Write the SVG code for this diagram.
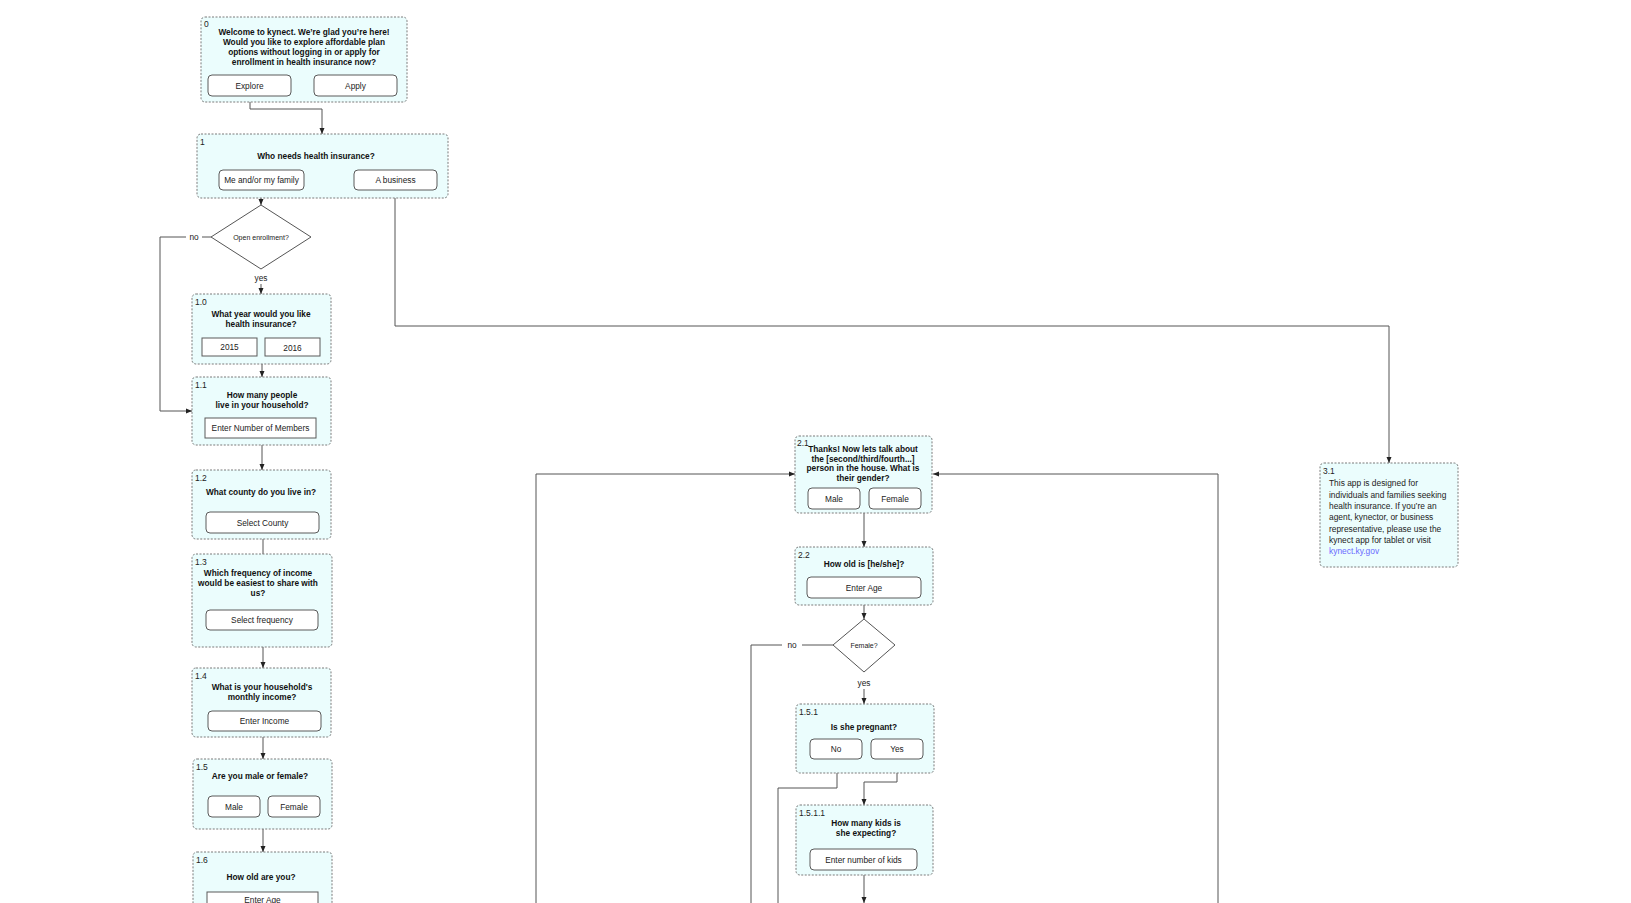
<svg xmlns="http://www.w3.org/2000/svg" width="1631" height="903" viewBox="0 0 1631 903">
<style>
.nd{fill:#ebfdfd;stroke:#7a7a7a;stroke-width:1;stroke-dasharray:2 1.5}
.bt{fill:#fff;stroke:#5a5a5a;stroke-width:1}
.t{font-family:"Liberation Sans",Arial,sans-serif;font-size:8.3px;font-weight:bold;fill:#111;text-anchor:middle}
.b{font-family:"Liberation Sans",Arial,sans-serif;font-size:8.3px;fill:#222;text-anchor:middle}
.n{font-family:"Liberation Sans",Arial,sans-serif;font-size:8.5px;fill:#222}
.d{font-family:"Liberation Sans",Arial,sans-serif;font-size:7px;fill:#222;text-anchor:middle}
.p{font-family:"Liberation Sans",Arial,sans-serif;font-size:8.4px;fill:#222}
.ln{fill:none;stroke:#555;stroke-width:1}
.dm{fill:#fff;stroke:#555;stroke-width:1}
</style>
<defs>
<marker id="ar" viewBox="0 0 6 6" refX="6" refY="3" markerWidth="6" markerHeight="6" markerUnits="userSpaceOnUse" orient="auto">
<path d="M0,0.5 L6,3 L0,5.5 Z" fill="#222"/>
</marker>
</defs>
<rect width="1631" height="903" fill="#fff"/>

<g id="connectors">
<path class="ln" d="M250,96 V109 H322 V134" marker-end="url(#ar)"/>
<path class="ln" d="M261,190 V205" marker-end="url(#ar)"/>
<path class="ln" d="M395,190 V326 H1389 V463" marker-end="url(#ar)"/>
<path class="ln" d="M211,237 H202"/>
<path class="ln" d="M186,237 H160 V411 H192" marker-end="url(#ar)"/>
<path class="ln" d="M261,284 V294" marker-end="url(#ar)"/>
<path class="ln" d="M262,364 V377" marker-end="url(#ar)"/>
<path class="ln" d="M262,445 V470" marker-end="url(#ar)"/>
<path class="ln" d="M263,533 V554"/>
<path class="ln" d="M263,647 V668" marker-end="url(#ar)"/>
<path class="ln" d="M263,737 V759" marker-end="url(#ar)"/>
<path class="ln" d="M263,829 V852" marker-end="url(#ar)"/>
<path class="ln" d="M536,903 V474 H795" marker-end="url(#ar)"/>
<path class="ln" d="M1218,903 V474 H933" marker-end="url(#ar)"/>
<path class="ln" d="M864,513 V547" marker-end="url(#ar)"/>
<path class="ln" d="M864,605 V619" marker-end="url(#ar)"/>
<path class="ln" d="M833,645 H802"/>
<path class="ln" d="M782,645 H751 V903"/>
<path class="ln" d="M864,689 V704" marker-end="url(#ar)"/>
<path class="ln" d="M837,759 V788 H778 V903"/>
<path class="ln" d="M897,759 V782 H864 V805" marker-end="url(#ar)"/>
<path class="ln" d="M864,870 V903" marker-end="url(#ar)"/>
</g>

<g id="node-0">
<rect class="nd" x="201" y="17" width="206" height="85" rx="4"/>
<text class="n" x="204" y="27">0</text>
<text class="t" x="304" y="34.5">Welcome to kynect. We’re glad you’re here!</text>
<text class="t" x="304" y="44.5">Would you like to explore affordable plan</text>
<text class="t" x="304" y="54.5">options without logging in or apply for</text>
<text class="t" x="304" y="64.5">enrollment in health insurance now?</text>
<rect class="bt" x="208" y="75" width="83" height="21" rx="4"/>
<text class="b" x="249.5" y="88.5">Explore</text>
<rect class="bt" x="314" y="75" width="83" height="21" rx="4"/>
<text class="b" x="355.5" y="88.5">Apply</text>
</g>

<g id="node-1">
<rect class="nd" x="197" y="134" width="251" height="64" rx="4"/>
<text class="n" x="200" y="145">1</text>
<text class="t" x="316" y="159">Who needs health insurance?</text>
<rect class="bt" x="219" y="170" width="85" height="20" rx="4"/>
<text class="b" x="261.5" y="183">Me and/or my family</text>
<rect class="bt" x="354" y="170" width="83" height="20" rx="4"/>
<text class="b" x="395.5" y="183">A business</text>
</g>

<g id="decision-open-enrollment">
<path class="dm" d="M261,205 L311,237 L261,269 L211,237 Z"/>
<text class="d" x="261" y="239.5">Open enrollment?</text>
<text class="b" x="194" y="240">no</text>
<text class="b" x="261" y="281">yes</text>
</g>

<g id="node-1-0">
<rect class="nd" x="192" y="294" width="139" height="70" rx="4"/>
<text class="n" x="195" y="305">1.0</text>
<text class="t" x="261" y="317">What year would you like</text>
<text class="t" x="261" y="327">health insurance?</text>
<rect class="bt" x="202" y="338" width="55" height="18"/>
<text class="b" x="229.5" y="350">2015</text>
<rect class="bt" x="265" y="338" width="55" height="18"/>
<text class="b" x="292.5" y="350.5">2016</text>
</g>

<g id="node-1-1">
<rect class="nd" x="192" y="377" width="139" height="68" rx="4"/>
<text class="n" x="195" y="388">1.1</text>
<text class="t" x="262" y="398">How many people</text>
<text class="t" x="262" y="408">live in your household?</text>
<rect class="bt" x="205" y="418" width="111" height="20"/>
<text class="b" x="260.5" y="431">Enter Number of Members</text>
</g>

<g id="node-1-2">
<rect class="nd" x="192" y="470" width="139" height="69" rx="4"/>
<text class="n" x="195" y="481">1.2</text>
<text class="t" x="261" y="495">What county do you live in?</text>
<rect class="bt" x="206" y="512" width="113" height="21" rx="4"/>
<text class="b" x="262.5" y="525.5">Select County</text>
</g>

<g id="node-1-3">
<rect class="nd" x="192" y="554" width="140" height="93" rx="4"/>
<text class="n" x="195" y="565">1.3</text>
<text class="t" x="258" y="576">Which frequency of income</text>
<text class="t" x="258" y="586">would be easiest to share with</text>
<text class="t" x="258" y="596">us?</text>
<rect class="bt" x="206" y="610" width="112" height="20" rx="4"/>
<text class="b" x="262" y="623">Select frequency</text>
</g>

<g id="node-1-4">
<rect class="nd" x="192" y="668" width="139" height="69" rx="4"/>
<text class="n" x="195" y="679">1.4</text>
<text class="t" x="262" y="690">What is your household's</text>
<text class="t" x="262" y="699.5">monthly income?</text>
<rect class="bt" x="208" y="711" width="113" height="20" rx="4"/>
<text class="b" x="264.5" y="724">Enter Income</text>
</g>

<g id="node-1-5">
<rect class="nd" x="193" y="759" width="139" height="70" rx="4"/>
<text class="n" x="196" y="770">1.5</text>
<text class="t" x="260" y="779">Are you male or female?</text>
<rect class="bt" x="208" y="796" width="52" height="21" rx="4"/>
<text class="b" x="234" y="809.5">Male</text>
<rect class="bt" x="268" y="796" width="52" height="21" rx="4"/>
<text class="b" x="294" y="809.5">Female</text>
</g>

<g id="node-1-6">
<rect class="nd" x="193" y="852" width="139" height="70" rx="4"/>
<text class="n" x="196" y="863">1.6</text>
<text class="t" x="261" y="880">How old are you?</text>
<rect class="bt" x="207" y="892" width="111" height="20"/>
<text class="b" x="262.5" y="903">Enter Age</text>
</g>

<g id="node-2-1">
<rect class="nd" x="795" y="436" width="137" height="77" rx="4"/>
<text class="n" x="797" y="446">2.1</text>
<text class="t" x="863" y="452">Thanks! Now lets talk about</text>
<text class="t" x="863" y="462">the [second/third/fourth...]</text>
<text class="t" x="863" y="471">person in the house. What is</text>
<text class="t" x="863" y="480.5">their gender?</text>
<rect class="bt" x="808" y="488" width="52" height="21" rx="4"/>
<text class="b" x="834" y="501.5">Male</text>
<rect class="bt" x="869" y="488" width="52" height="21" rx="4"/>
<text class="b" x="895" y="501.5">Female</text>
</g>

<g id="node-2-2">
<rect class="nd" x="795" y="547" width="138" height="58" rx="4"/>
<text class="n" x="798" y="558">2.2</text>
<text class="t" x="864" y="567">How old is [he/she]?</text>
<rect class="bt" x="807" y="577" width="114" height="21" rx="4"/>
<text class="b" x="864" y="590.5">Enter Age</text>
</g>

<g id="decision-female">
<path class="dm" d="M864,619 L895,645 L864,672 L833,645 Z"/>
<text class="d" x="864" y="647.5">Female?</text>
<text class="b" x="792" y="648">no</text>
<text class="b" x="864" y="686">yes</text>
</g>

<g id="node-1-5-1">
<rect class="nd" x="796" y="704" width="138" height="69" rx="4"/>
<text class="n" x="799" y="715">1.5.1</text>
<text class="t" x="864" y="730">Is she pregnant?</text>
<rect class="bt" x="810" y="739" width="52" height="20" rx="4"/>
<text class="b" x="836" y="752">No</text>
<rect class="bt" x="871" y="739" width="52" height="20" rx="4"/>
<text class="b" x="897" y="752">Yes</text>
</g>

<g id="node-1-5-1-1">
<rect class="nd" x="796" y="805" width="137" height="70" rx="4"/>
<text class="n" x="799" y="816">1.5.1.1</text>
<text class="t" x="866" y="826">How many kids is</text>
<text class="t" x="866" y="836">she expecting?</text>
<rect class="bt" x="810" y="849" width="107" height="21" rx="4"/>
<text class="b" x="863.5" y="862.5">Enter number of kids</text>
</g>

<g id="node-3-1">
<rect class="nd" x="1320" y="463" width="138" height="104" rx="4"/>
<text class="p" x="1323" y="474">3.1</text>
<text class="p" x="1329" y="486">This app is designed for</text>
<text class="p" x="1329" y="497.5">individuals and families seeking</text>
<text class="p" x="1329" y="509">health insurance. If you’re an</text>
<text class="p" x="1329" y="520">agent, kynector, or business</text>
<text class="p" x="1329" y="531.5">representative, please use the</text>
<text class="p" x="1329" y="543">kynect app for tablet or visit</text>
<text class="p" x="1329" y="554" style="fill:#6a6aff">kynect.ky.gov</text>
</g>
</svg>
